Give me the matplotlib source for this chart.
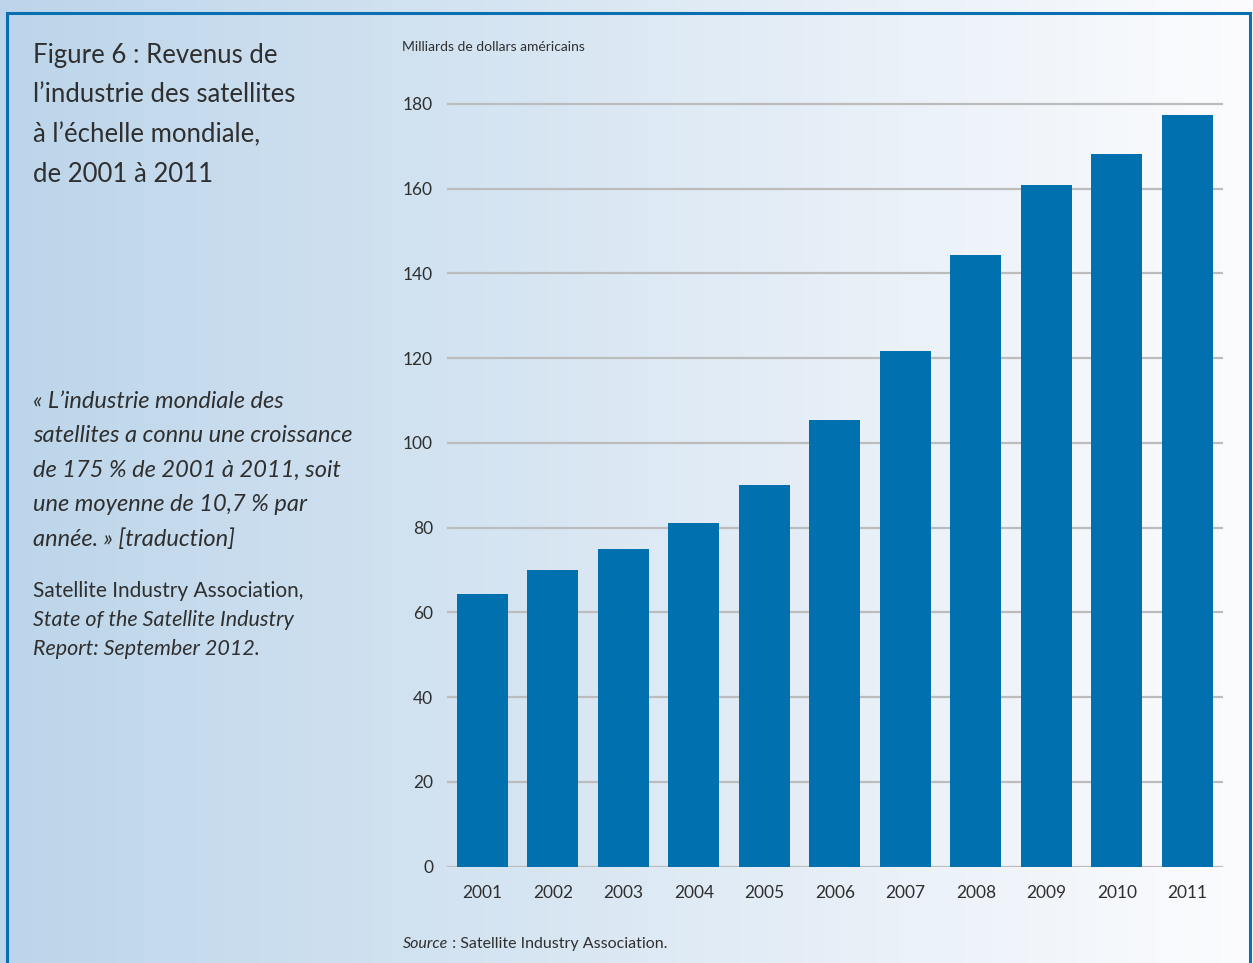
import numpy as np
import matplotlib
matplotlib.use('Agg')
import matplotlib.pyplot as plt
from matplotlib.patches import Rectangle

W, H = 1253, 963

years = ['2001', '2002', '2003', '2004', '2005', '2006', '2007', '2008', '2009', '2010', '2011']
revenue = [64.3, 70.0, 75.0, 81.1, 90.1, 105.4, 121.7, 144.4, 160.9, 168.2, 177.4]
yticks = [0, 20, 40, 60, 80, 100, 120, 140, 160, 180]

title_lines = ['Figure 6 : Revenus de', 'l\u2019industrie des satellites',
               '\u00e0 l\u2019\u00e9chelle mondiale,', 'de 2001 \u00e0 2011']
quote_lines = ['\u00ab L\u2019industrie mondiale des', 'satellites a connu une croissance',
               'de 175 % de 2001 \u00e0 2011, soit', 'une moyenne de 10,7 % par',
               'ann\u00e9e. \u00bb [traduction]']

bar_col = '#0070ae'
text_col = '#2f2f2f'
font = 'Lato'


def fx(px):
    return px / W


def fy(py):
    return 1 - py / H


fig = plt.figure(figsize=(W / 100, H / 100), dpi=100)

# gradient background
bg = fig.add_axes([0, 0, 1, 1], zorder=-10)
left = np.array([188, 213, 234]) / 255
right = np.array([252, 252, 254]) / 255
t = np.linspace(0, 1, 256)
grad = (left[None, :] * (1 - t[:, None]) + right[None, :] * t[:, None])[None, :, :]
bg.imshow(grad, aspect='auto', extent=[0, 1, 0, 1])
bg.set_xlim(0, 1)
bg.set_ylim(0, 1)
bg.axis('off')

# blue frame (bottom edge runs off the page)
fig.patches.append(Rectangle((fx(7), fy(990)), fx(1250) - fx(7), fy(13) - fy(990),
                             transform=fig.transFigure, fill=False,
                             edgecolor='#0a6fb0', lw=2.2, zorder=5))

# chart area
unit = (866.5 - 104) / 180
ytop = 182
ax = fig.add_axes([fx(447), fy(866.5), fx(1222.7) - fx(447), (ytop * unit) / H])
ax.set_facecolor('none')
x = np.arange(len(years))
for v in yticks:
    ax.axhline(v, color='#bcbcbc', lw=1.6, zorder=1)
ax.bar(x, revenue, width=0.723, color=bar_col, zorder=2)
ax.set_xlim(-0.5, 10.5)
ax.set_ylim(0, ytop)
for s in ax.spines.values():
    s.set_visible(False)
ax.set_xticks(x)
ax.set_xticklabels(years, family=font, fontsize=12.5, color=text_col)
ax.set_yticks(yticks)
ax.set_yticklabels([str(v) for v in yticks], family=font, fontsize=12.5, color=text_col)
ax.tick_params(axis='both', length=0)
ax.tick_params(axis='y', pad=10)
ax.tick_params(axis='x', pad=13)

fig.text(fx(402), fy(47), 'Milliards de dollars am\u00e9ricains', family=font,
         fontsize=10, color=text_col, va='center')

for i, line in enumerate(title_lines):
    fig.text(fx(33), fy(55 + 39.7 * i), line, family=font, fontsize=18.5,
             color=text_col, va='center')

for i, line in enumerate(quote_lines):
    fig.text(fx(33), fy(401 + 34.5 * i), line, family=font, style='italic',
             fontsize=17, color=text_col, va='center')

fig.text(fx(33), fy(591), 'Satellite Industry Association,', family=font,
         fontsize=15, color=text_col, va='center')
fig.text(fx(33), fy(620), 'State of the Satellite Industry', family=font,
         style='italic', fontsize=15.5, color=text_col, va='center')
fig.text(fx(33), fy(649), 'Report: September 2012.', family=font,
         style='italic', fontsize=15.5, color=text_col, va='center')

# source line: italic word followed by upright text
src = fig.text(fx(403), fy(944), 'Source', family=font, style='italic',
               fontsize=11.5, color=text_col, va='center')
fig.canvas.draw()
bb = src.get_window_extent()
fig.text(bb.x1 / W, fy(944), ' : Satellite Industry Association.', family=font,
         fontsize=11.5, color=text_col, va='center')

fig.savefig('out.png', dpi=100)
